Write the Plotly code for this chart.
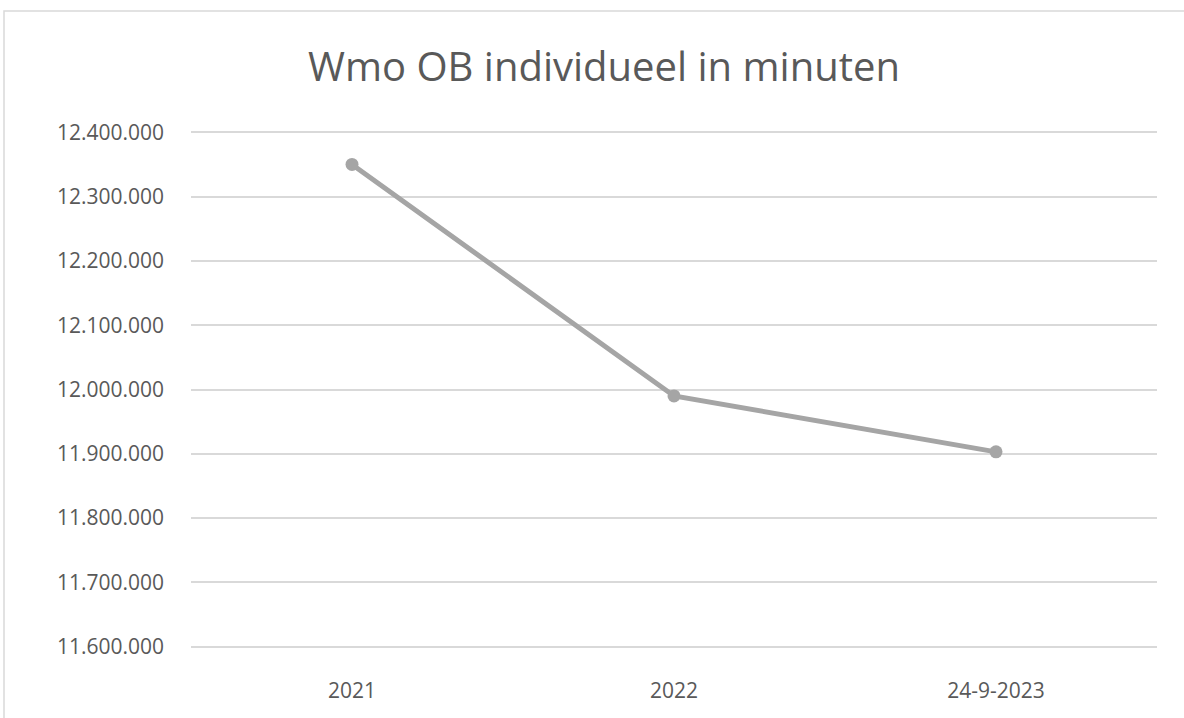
import plotly.graph_objects as go

# data
categories = ["2021", "2022", "24-9-2023"]
minutes = [12350000, 11990000, 11903000]
y_ticks = [11600000, 11700000, 11800000, 11900000, 12000000, 12100000, 12200000, 12300000, 12400000]

W, H = 1184, 718
L, R, T, B = 191, 27, 131, 70

fig = go.Figure()
fig.add_trace(go.Scatter(
    x=categories, y=minutes,
    mode="lines+markers",
    line=dict(color="#A5A5A5", width=5),
    marker=dict(color="#A5A5A5", size=13),
    showlegend=False,
))

# light frame around the chart area (like the Excel chart border)
pw, ph = W - L - R, H - T - B
fig.add_shape(
    type="rect", xref="paper", yref="paper",
    x0=(4 - L) / pw, x1=(W + 20 - L) / pw,
    y0=-(B + 20) / ph, y1=(H - B - 11) / ph,
    line=dict(color="#D9D9D9", width=1.5), fillcolor="rgba(0,0,0,0)",
    layer="below",
)

fig.update_layout(
    width=W, height=H,
    margin=dict(l=L, r=R, t=T, b=B),
    paper_bgcolor="white", plot_bgcolor="white",
    separators=",.",
    title=dict(
        text="Wmo OB individueel in minuten",
        x=604 / W, xanchor="center",
        y=1 - 67 / H, yanchor="middle",
        font=dict(family="Open Sans", size=40, color="#595959"),
    ),
    font=dict(family="Open Sans", color="#595959"),
)
fig.update_xaxes(
    type="category", range=[-0.5, 2.5],
    showgrid=False, zeroline=False, showline=False,
    ticks="", ticklabelstandoff=28,
    tickfont=dict(size=21, color="#595959"),
)
fig.update_yaxes(
    range=[11598000, 12402000],
    tickvals=y_ticks, tickformat=",d",
    showgrid=True, gridcolor="#D9D9D9", gridwidth=1.5,
    zeroline=False, showline=False,
    ticks="", ticklabelstandoff=26,
    tickfont=dict(size=21, color="#595959"),
)

fig.write_html("out.html", config={"displayModeBar": False},
               post_script="document.body.style.margin='0px';")
